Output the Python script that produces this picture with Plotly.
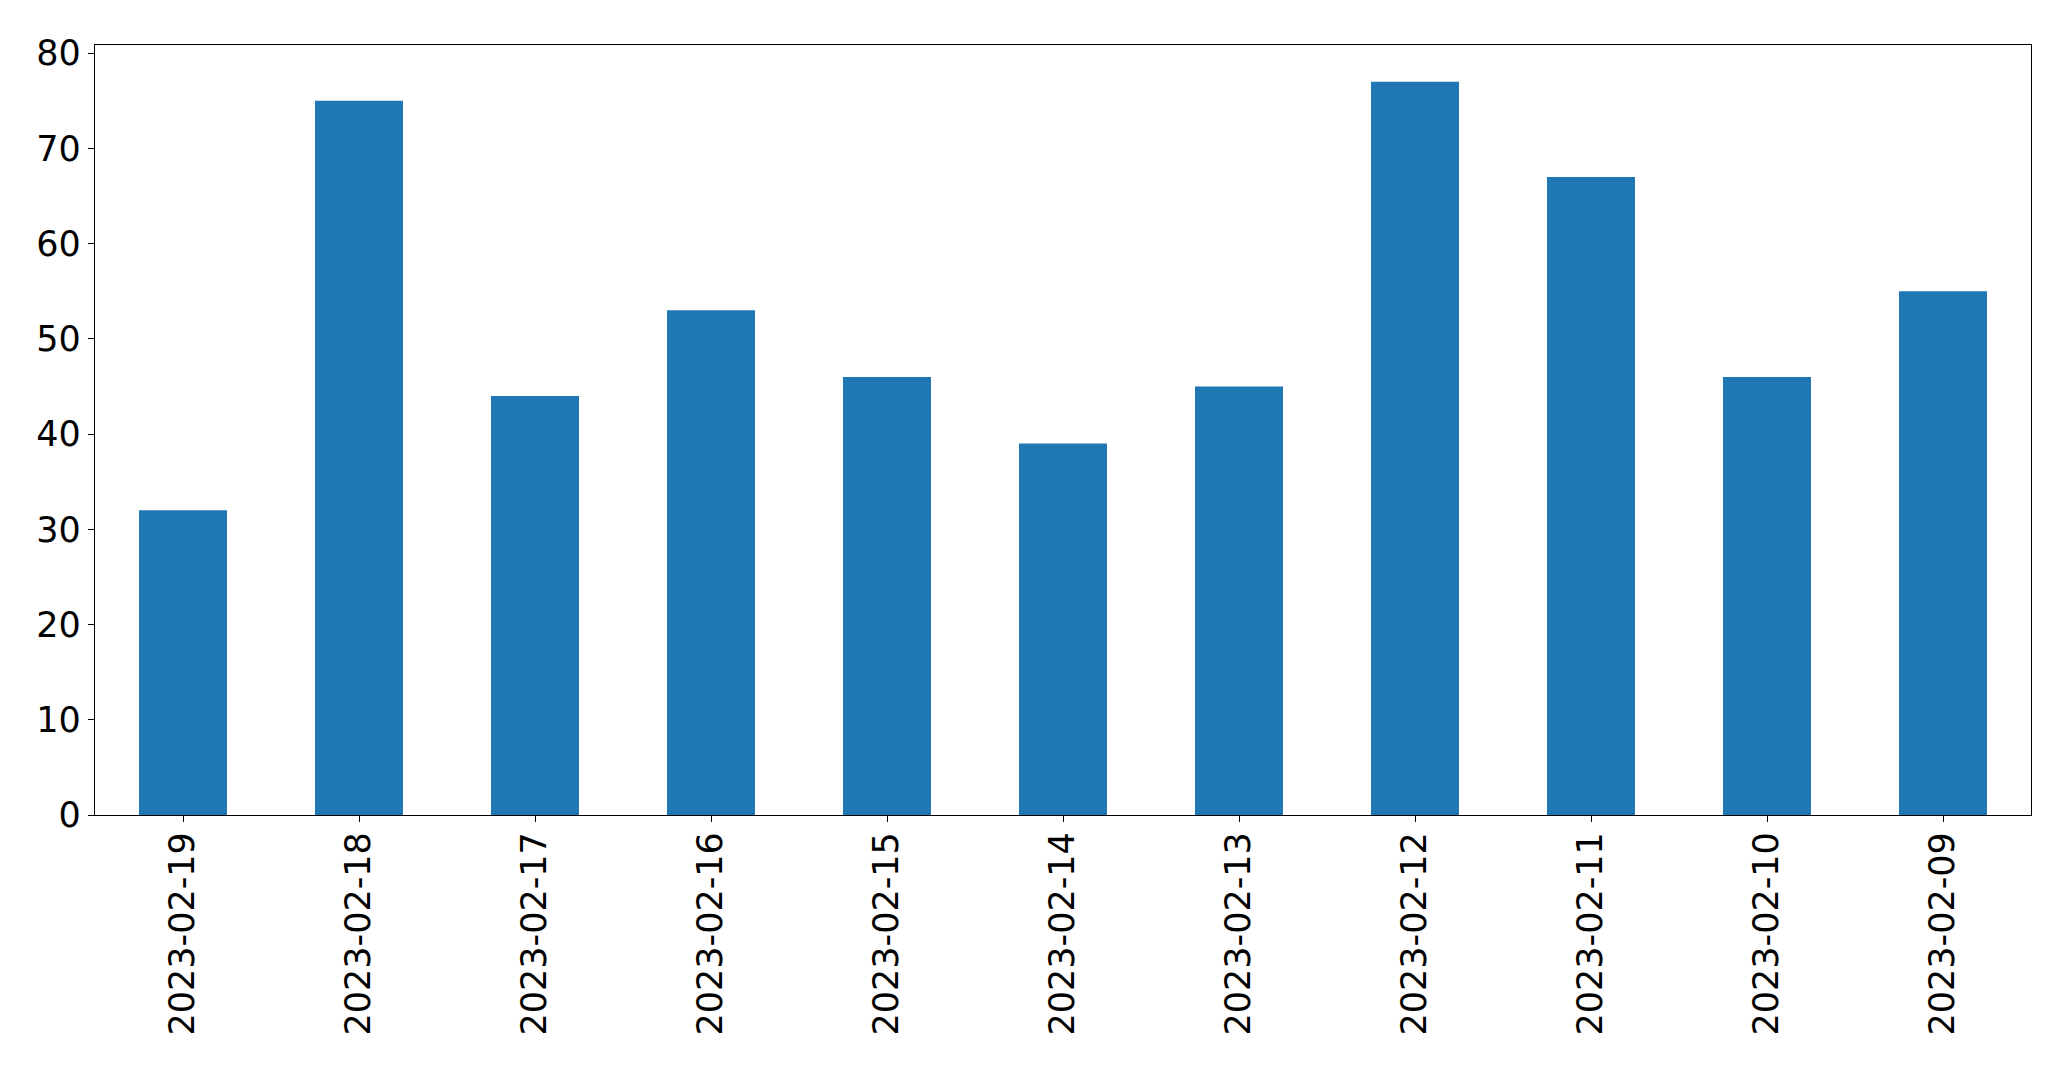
import plotly.graph_objects as go

dates = ["2023-02-19", "2023-02-18", "2023-02-17", "2023-02-16", "2023-02-15",
         "2023-02-14", "2023-02-13", "2023-02-12", "2023-02-11", "2023-02-10", "2023-02-09"]
counts = [32, 75, 44, 53, 46, 39, 45, 77, 67, 46, 55]
y_ticks = [0, 10, 20, 30, 40, 50, 60, 70, 80]

fig = go.Figure(go.Bar(x=dates, y=counts, width=0.5, marker_color="#1f77b4",
                       marker_line_width=0))

font = dict(family="DejaVu Sans", size=35, color="black")
fig.update_layout(
    width=2071, height=1067,
    margin=dict(l=95, r=40, t=45, b=252),
    paper_bgcolor="white", plot_bgcolor="white",
    showlegend=False,
    font=font,
)
fig.update_xaxes(type="category", range=[-0.5, 10.5], tickangle=-90,
                 showline=True, mirror=True, linecolor="black", linewidth=1.3,
                 ticks="outside", ticklen=6, tickwidth=1.3, tickcolor="black",
                 ticklabelstandoff=-4,
                 showgrid=False, tickfont=font)
fig.update_yaxes(range=[0, 80.85], tickvals=y_ticks,
                 showline=True, mirror=True, linecolor="black", linewidth=1.3,
                 ticks="outside", ticklen=6, tickwidth=1.3, tickcolor="black",
                 showgrid=False, zeroline=False, tickfont=font)

fig.write_html("out.html")
